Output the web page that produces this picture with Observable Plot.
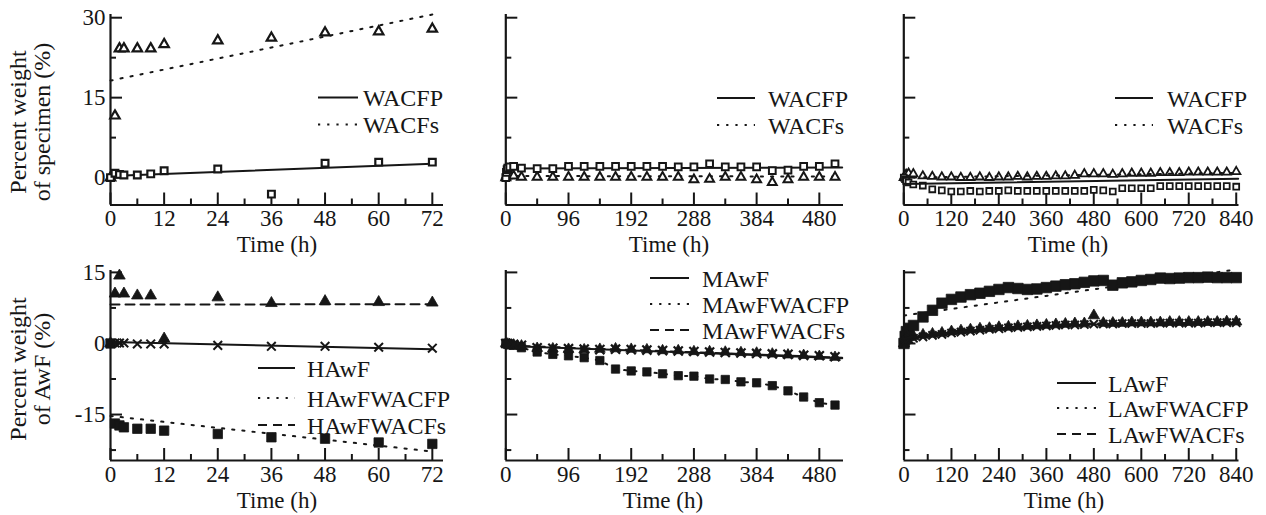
<!DOCTYPE html>
<html><head><meta charset="utf-8">
<script src="https://cdn.jsdelivr.net/npm/d3@7"></script>
<script src="https://cdn.jsdelivr.net/npm/@observablehq/plot@0.6"></script>
<style>
html,body{margin:0;padding:0;background:#fff;}
#chart{position:relative;width:1266px;height:515px;overflow:hidden;}
</style></head><body><div id="chart"></div>
<script>
// ---------- DATA ----------
// (a) top-left: specimens, 0-72 h
const tA = [0, 1, 2, 3, 6, 9, 12, 24, 36, 48, 60, 72];
const aWACFP = [0, 0.8, 0.6, 0.5, 0.5, 0.7, 1.3, 1.6, -3.1, 2.7, 2.9, 2.9];
const aWACFs = [0, 11.6, 24.2, 24.2, 24.2, 24.2, 25.0, 25.7, 26.2, 27.2, 27.4, 27.9];
const aFitT = [0, 72];
const aFitWACFP = [0.3, 2.6];
const aFitWACFs = [18.2, 30.6];

// (b) top-middle: specimens, 0-504 h
const tB = [0, 1, 2, 3, 6, 12, 24, 48, 72, 96, 120, 144, 168, 192, 216, 240, 264, 288, 312, 336, 360, 384, 408, 432, 456, 480, 504];
const bWACFP = [0, 1.0, 1.5, 1.8, 2.0, 2.1, 1.8, 1.7, 1.7, 2.1, 2.1, 2.1, 2.1, 2.1, 2.1, 2.1, 2.0, 2.0, 2.6, 2.0, 2.0, 2.0, 1.3, 1.4, 2.1, 2.1, 2.6];
const bWACFs = [0, 0.3, 0.4, 0.5, 0.5, 0.3, 0.1, 0.1, 0.1, 0.1, 0.1, 0.1, 0.1, 0.1, 0.1, 0.1, 0.1, -0.4, -0.3, 0.1, 0.1, -0.4, -0.9, -0.4, 0.1, 0.1, 0.1];
const bFitT = [0, 515];
const bFitWACFP = [1.7, 1.9];
const bFitWACFs = [0.3, 0.2];

// (c) top-right: specimens, 0-840 h
const tC = [0, 3, 6, 12, 24, 48, 72, 96, 120, 144, 168, 192, 216, 240, 264, 288, 312, 336, 360, 384, 408, 432, 456, 480, 504, 528, 552, 576, 600, 624, 648, 672, 696, 720, 744, 768, 792, 816, 840];
const cWACFP = [0, -0.3, -0.6, -0.9, -1.3, -1.5, -2.2, -2.4, -2.6, -2.6, -2.5, -2.6, -2.5, -2.5, -2.4, -2.5, -2.5, -2.5, -2.5, -2.5, -2.5, -2.5, -2.5, -2.3, -2.4, -2.6, -2.0, -2.0, -2.0, -2.0, -1.6, -1.6, -1.6, -1.6, -1.6, -1.6, -1.6, -1.6, -1.7];
const cWACFs = [0, 0.4, 0.6, 0.8, 0.7, 0.3, 0.2, 0.1, 0.1, 0.0, 0.0, 0.1, 0.0, 0.1, 0.1, 0.2, 0.1, 0.2, 0.2, 0.3, 0.3, 0.4, 0.7, 0.7, 0.7, 0.6, 0.7, 0.8, 0.8, 0.8, 0.9, 0.9, 0.9, 1.0, 1.0, 1.0, 1.0, 1.0, 1.1];
const cFitT = [0, 845];
const cFitWACFP = [-1.2, -0.2];
const cFitWACFs = [0.0, 0.9];

// (d) bottom-left: HAwF, 0-72 h
const tD = [0, 1, 2, 3, 6, 9, 12, 24, 36, 48, 60, 72];
const dAwF = [0, 0.1, 0.1, 0.1, -0.1, -0.1, -0.1, -0.4, -0.6, -0.6, -0.8, -1.0];
const dWACFP = [0, -16.9, -17.3, -17.7, -18.0, -18.0, -18.4, -19.1, -19.8, -20.1, -20.9, -21.2];
const dWACFs = [0, 10.5, 14.3, 10.5, 10.1, 10.1, 1.0, 9.7, 8.5, 8.9, 8.7, 8.6];
const dFitT = [0, 72];
const dFitAwF = [0.3, -1.2];
const dFitWACFP = [-15.3, -22.8];
const dFitWACFs = [8.2, 8.3];

// (e) bottom-middle: MAwF, 0-504 h
const tE = [0, 3, 6, 12, 24, 48, 72, 96, 120, 144, 168, 192, 216, 240, 264, 288, 312, 336, 360, 384, 408, 432, 456, 480, 504];
const eAwF = [0, 0, -0.1, -0.2, -0.4, -0.9, -1.0, -1.1, -1.2, -1.3, -1.2, -1.3, -1.4, -1.5, -1.6, -1.7, -1.8, -1.9, -2.0, -2.1, -2.2, -2.3, -2.5, -2.6, -2.8];
const eWACFP = [0, -0.2, -0.3, -0.4, -0.9, -1.8, -2.3, -2.6, -3.0, -3.6, -5.4, -5.8, -6.0, -6.4, -6.8, -6.9, -7.5, -7.6, -8.1, -8.3, -8.9, -10.0, -11.3, -12.5, -13.0];
const eWACFs = [0, -0.1, -0.2, -0.3, -0.5, -1.0, -1.1, -1.2, -1.3, -1.2, -1.1, -1.2, -1.3, -1.5, -1.5, -1.7, -1.7, -1.8, -1.9, -2.0, -2.2, -2.4, -2.5, -2.7, -2.9];
const eFitT = [0, 515];
const eFitAwF = [-0.5, -3.1];
const eFitWACFs = [-0.4, -3.0];

// (f) bottom-right: LAwF, 0-840 h
const tF = [0, 3, 6, 12, 24, 48, 72, 96, 120, 144, 168, 192, 216, 240, 264, 288, 312, 336, 360, 384, 408, 432, 456, 480, 504, 528, 552, 576, 600, 624, 648, 672, 696, 720, 744, 768, 792, 816, 840];
const fAwF = [0, 0.4, 0.7, 0.9, 1.1, 1.4, 1.7, 1.9, 2.2, 2.4, 2.6, 2.8, 3.0, 3.1, 3.3, 3.4, 3.5, 3.6, 3.7, 3.8, 3.9, 3.9, 4.0, 4.1, 4.1, 4.1, 4.2, 4.2, 4.2, 4.2, 4.3, 4.3, 4.3, 4.3, 4.3, 4.4, 4.4, 4.4, 4.4];
const fWACFP = [0, 1.5, 2.5, 3.2, 3.8, 5.6, 7.0, 8.5, 9.3, 9.8, 10.3, 10.6, 11.0, 11.4, 11.8, 11.6, 11.4, 11.5, 11.8, 12.1, 12.4, 12.6, 12.9, 13.2, 13.3, 12.3, 12.8, 13.0, 13.3, 13.5, 13.8, 13.7, 13.8, 13.9, 13.9, 14.0, 13.9, 13.9, 13.9];
const fWACFs = [0, 0.8, 1.1, 1.3, 1.5, 1.8, 2.0, 2.2, 2.5, 2.7, 2.9, 3.1, 3.2, 3.4, 3.5, 3.6, 3.7, 3.8, 3.9, 4.0, 4.1, 4.2, 4.2, 5.9, 4.3, 4.3, 4.3, 4.4, 4.4, 4.4, 4.4, 4.5, 4.5, 4.5, 4.5, 4.5, 4.5, 4.6, 4.6];
const fFitT = [0, 24, 72, 144, 240, 360, 480, 600, 720, 840];
const fFitAwF = [0.8, 1.3, 1.9, 2.6, 3.2, 3.7, 4.0, 4.2, 4.3, 4.4];
const fFitWACFs = [1.0, 1.5, 2.1, 2.8, 3.4, 3.9, 4.2, 4.4, 4.5, 4.6];
const fFitPT = [0, 840];
const fFitWACFP = [5.9, 15.6];

// axis ticks
const ticks72 = [0, 12, 24, 36, 48, 60, 72];
const minor72 = [6, 18, 30, 42, 54, 66];
const ticks480 = [0, 96, 192, 288, 384, 480];
const minor480 = [48, 144, 240, 336, 432];
const ticks840 = [0, 120, 240, 360, 480, 600, 720, 840];
const minor840 = [60, 180, 300, 420, 540, 660, 780];
const yTopMajor = [0, 15, 30];
const yTopMinor = [7.5, 22.5];
const yBotMajor = [-15, 0, 15];
const yBotMinor = [-22.5, -7.5, 7.5];

// legends / titles
const legTop = ["WACFP", "WACFs"];
const legH = ["HAwF", "HAwFWACFP", "HAwFWACFs"];
const legM = ["MAwF", "MAwFWACFP", "MAwFWACFs"];
const legL = ["LAwF", "LAwFWACFP", "LAwFWACFs"];
const yTitleTop = ["Percent weight", "of specimen (%)"];
const yTitleBot = ["Percent weight", "of AwF (%)"];
const xTitle = "Time (h)";

// ---------- RENDER ----------
const INK = "#161616";
const FONT = '"Liberation Serif", "Times New Roman", Times, serif';
const DOT = "2.2,8";
const DASH = "9,6";
const series = (ts, vs) => ts.map((t, i) => ({t, v: vs[i]}));
const chart = document.getElementById("chart");

function panel(o) {
  const innerW = o.width - o.ml - o.mr;
  const innerH = o.height - o.mt - o.mb;
  const fmt = o.labels ? (d => String(d)) : (() => "");
  const svg = Plot.plot({
    width: o.width, height: o.height,
    marginLeft: o.ml, marginRight: o.mr, marginTop: o.mt, marginBottom: o.mb,
    x: {domain: o.xDomain},
    y: {domain: o.yDomain},
    style: {fontFamily: FONT, fontSize: "23px", color: INK, background: "transparent", overflow: "visible"},
    marks: [
      Plot.ruleX([o.xDomain[0]], {stroke: INK, strokeWidth: 2.2}),
      Plot.ruleY([o.yDomain[0]], {stroke: INK, strokeWidth: 2.2}),
      Plot.tickX(o.xMajor, {x: d => d, insetTop: innerH - 12, stroke: INK, strokeWidth: 2}),
      Plot.tickX(o.xMinor, {x: d => d, insetTop: innerH - 6, stroke: INK, strokeWidth: 2}),
      Plot.tickY(o.yMajor, {y: d => d, insetRight: innerW - 12, stroke: INK, strokeWidth: 2}),
      Plot.tickY(o.yMinor, {y: d => d, insetRight: innerW - 6, stroke: INK, strokeWidth: 2}),
      Plot.axisX(o.xMajor, {tickSize: 0, tickPadding: 5, tickFormat: d => String(d), fontSize: 23, label: null}),
      Plot.axisY(o.yMajor, {tickSize: 0, tickPadding: 5, tickFormat: fmt, fontSize: 23, label: null}),
      ...o.marks
    ]
  });
  svg.style.position = "absolute";
  svg.style.left = o.left + "px";
  svg.style.top = o.top + "px";
  chart.appendChild(svg);
}

const line = (ts, vs, dash, sw = 2) => Plot.line(series(ts, vs), {x: "t", y: "v", stroke: INK, strokeWidth: sw, strokeDasharray: dash});
const hollow = (ts, vs, symbol, r, sw) => Plot.dot(series(ts, vs), {x: "t", y: "v", symbol, r, stroke: INK, strokeWidth: sw, fill: "white"});
const filled = (ts, vs, symbol, r) => Plot.dot(series(ts, vs), {x: "t", y: "v", symbol, r, fill: INK, stroke: INK, strokeWidth: 0.8});
const cross = (ts, vs, r, sw) => Plot.dot(series(ts, vs), {x: "t", y: "v", symbol: "times", r, stroke: INK, strokeWidth: sw, fill: "none"});

const TOP = {top: 0, height: 258, mt: 14, mb: 53.5, yDomain: [-5.14, 30.6], yMajor: yTopMajor, yMinor: yTopMinor};
const BOT = {top: 258, height: 257, mt: 12, mb: 55, yDomain: [-24.7, 15.4], yMajor: yBotMajor, yMinor: yBotMinor};

// (a)
panel({...TOP, left: 0, width: 450, ml: 110, mr: 7, labels: true,
  xDomain: [0, 74.5], xMajor: ticks72, xMinor: minor72,
  marks: [
    line(aFitT, aFitWACFP, null),
    line(aFitT, aFitWACFs, DOT),
    hollow(tA, aWACFs, "triangle", 3.5, 2.2),
    hollow(tA, aWACFP, "square", 3.8, 2.2)
  ]});
// (b)
panel({...TOP, left: 450, width: 400, ml: 55.3, mr: 7, labels: false,
  xDomain: [0, 517], xMajor: ticks480, xMinor: minor480,
  marks: [
    line(bFitT, bFitWACFP, null),
    line(bFitT, bFitWACFs, DOT),
    hollow(tB, bWACFs, "triangle", 3.3, 2),
    hollow(tB, bWACFP, "square", 3.8, 2)
  ]});
// (c)
panel({...TOP, left: 850, width: 416, ml: 53.3, mr: 27.5, labels: false,
  xDomain: [0, 847], xMajor: ticks840, xMinor: minor840,
  marks: [
    hollow(tC, cWACFs, "triangle", 3.1, 1.8),
    hollow(tC, cWACFP, "square", 3.3, 1.8),
    line(cFitT, cFitWACFP, null),
    line(cFitT, cFitWACFs, DOT)
  ]});
// (d)
panel({...BOT, left: 0, width: 450, ml: 110, mr: 7, labels: true,
  xDomain: [0, 74.5], xMajor: ticks72, xMinor: minor72,
  marks: [
    line(dFitT, dFitAwF, null),
    line(dFitT, dFitWACFP, DOT),
    line(dFitT, dFitWACFs, DASH),
    filled(tD, dWACFs, "triangle", 4.3),
    filled(tD, dWACFP, "square", 5.3),
    cross(tD, dAwF, 4, 2)
  ]});
// (e)
panel({...BOT, left: 450, width: 400, ml: 55.3, mr: 7, labels: false,
  xDomain: [0, 517], xMajor: ticks480, xMinor: minor480,
  marks: [
    line(eFitT, eFitAwF, null),
    line(eFitT, eFitWACFs, DASH),
    line(tE, eWACFP, DOT),
    filled(tE, eWACFP, "square", 4.7),
    filled(tE, eWACFs, "triangle", 4.0),
    cross(tE, eAwF, 4.2, 2.2)
  ]});
// (f)
panel({...BOT, left: 850, width: 416, ml: 53.5, mr: 27.5, labels: false,
  xDomain: [0, 847], xMajor: ticks840, xMinor: minor840,
  marks: [
    filled(tF, fWACFP, "square", 5.9),
    line(fFitPT, fFitWACFP, DOT),
    filled(tF, fWACFs, "triangle", 4.2),
    cross(tF, fAwF, 3.8, 2),
    line(fFitT, fFitAwF, null),
    line(fFitT, fFitWACFs, DASH)
  ]});

// ---------- overlay: axis titles and legends ----------
const ov = d3.create("svg").attr("width", 1266).attr("height", 515)
  .style("position", "absolute").style("left", "0px").style("top", "0px")
  .attr("font-family", FONT).attr("font-size", 24).attr("fill", INK);

function yTitle(lines, cy) {
  const xs = [26, 50];
  lines.forEach((s, i) => ov.append("text").attr("transform", `translate(${xs[i]},${cy}) rotate(-90)`)
    .attr("text-anchor", "middle").text(s));
}
yTitle(yTitleTop, 122);
yTitle(yTitleBot, 369);

[[277, 252], [669, 252], [1068, 252], [277, 508], [663, 508], [1064, 508]].forEach(([x, y]) =>
  ov.append("text").attr("x", x).attr("y", y).attr("text-anchor", "middle").attr("font-size", 23).text(xTitle));

function legend(labels, x1, x2, tx, ys, dashes) {
  labels.forEach((s, i) => {
    ov.append("line").attr("x1", x1).attr("x2", x2).attr("y1", ys[i]).attr("y2", ys[i])
      .attr("stroke", INK).attr("stroke-width", 2).attr("stroke-dasharray", dashes[i]);
    ov.append("text").attr("x", tx).attr("y", ys[i] + 8.5).text(s);
  });
}
legend(legTop, 318, 358, 363, [97.5, 124.5], [null, "2.2,7"]);
legend(legTop, 717, 755, 768, [98, 125], [null, "2.2,7"]);
legend(legTop, 1115, 1153, 1167, [98, 125], [null, "2.2,7"]);
legend(legH, 258, 295, 307, [368, 398, 425], [null, "2.2,7", "9,6"]);
legend(legM, 650, 689, 702, [278, 304, 330], [null, "2.2,7", "9,6"]);
legend(legL, 1057, 1096, 1108, [383, 408, 434], [null, "2.2,7", "9,6"]);

chart.appendChild(ov.node());
</script>
</body></html>
